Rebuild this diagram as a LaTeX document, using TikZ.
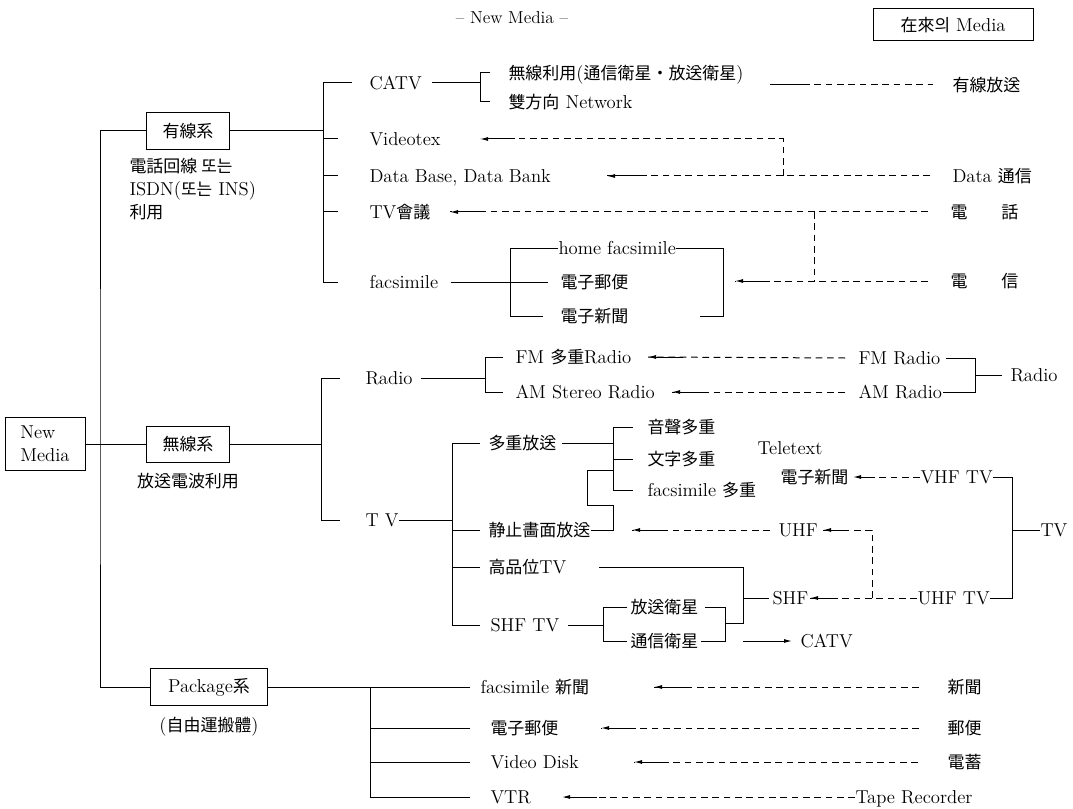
\documentclass[tikz,border=0pt]{standalone}
\usepackage{fontspec}
\newfontfamily\cjk{Noto Sans CJK KR}[Scale=0.91]
\usepackage{tikz}
\usetikzlibrary{arrows.meta,positioning,calc}
\newcommand{\hj}[1]{{\cjk #1}}
\newcommand{\Ar}[2][35]{\draw[<-] (#2) -- ++(#1,0);}

\begin{document}
\begin{tikzpicture}[x=0.75pt, y=-0.75pt, font=\fontsize{14}{17.25}\selectfont, >={Latex[length=6pt,width=3pt]},
  line width=0.75pt,
  every node/.style={inner sep=0pt},
  lbl/.style={anchor=west, text height=9.5pt, text depth=0pt},
  box/.style={draw, line width=0.75pt, minimum height=28pt, align=center},
  dsh/.style={dash pattern=on 5pt off 3.5pt}]
  \useasboundingbox (0,0) rectangle (1073,809);

  % Heads
  \node[font=\fontsize{13}{15}\selectfont] (head) at (512,18) {-- New Media --};
  \node[box, minimum width=120pt, minimum height=24pt] (old) at (953,25) {\hj{在來의} Media};

  % Root and groups
  \node[box, minimum width=60pt, minimum height=40pt, align=left] (nm) at (45,444) {New\\Media};
  \node[box, minimum width=62pt] (yus) at (188,131) {\hj{有線系}};
  \node[box, minimum width=62pt, minimum height=27pt] (mus) at (188,444) {\hj{無線系}};
  \node[box, minimum width=88pt] (pkg) at (209,687) {Package\hj{系}};
  \node[anchor=north west, align=left] (yussub) at (129,158) {\hj{電話回線 또는}\\ISDN(\hj{또는} INS)\\\hj{利用}};
  \node[below=8pt of mus] (mussub) {\hj{放送電波利用}};
  \node[below=8pt of pkg] (pkgsub) {(\hj{自由運搬體})};

  \coordinate (tk) at (100,444);
  \draw (nm.east) -- (mus.west);
  \draw (yus.west) -| (tk) |- (pkg.west);

  % Wired
  \node[lbl] (catv) at (369,83) {CATV};
  \node[lbl] (vtx) at (369,139) {Videotex};
  \node[lbl] (db) at (369,176) {Data Base, Data Bank};
  \node[lbl] (tvc) at (369,212) {TV\hj{會議}};
  \node[lbl] (fax) at (369,282) {facsimile};
  \node[lbl] (wl) at (508,73) {\hj{無線利用}(\hj{通信衛星・放送衛星})};
  \node[lbl] (net) at (508,102) {\hj{雙方向} Network};
  \node[lbl] (hf) at (558,248) {home facsimile};
  \node[lbl] (ep) at (560,282) {\hj{電子郵便}};
  \node[lbl] (en) at (560,316) {\hj{電子新聞}};
  \node[lbl] (cab) at (952,85) {\hj{有線放送}};
  \node[lbl] (dc) at (952,176) {Data \hj{通信}};
  \node[lbl] (tel) at (950,212) {\hj{電\qquad 話}};
  \node[lbl] (tg) at (950,281) {\hj{電\qquad 信}};

  \coordinate (wa) at (323,131);
  \draw (yus.east) -- (wa);
  \draw (wa |- catv) -- (wa |- fax);
  \draw (wa |- catv) -- ($(catv.west)+(-17,0)$);
  \draw (wa |- vtx) -- ($(vtx.west)+(-31,0)$);
  \draw (wa |- db) -- ($(db.west)+(-31,0)$);
  \draw (wa |- tvc) -- ($(tvc.west)+(-31,0)$);
  \draw (wa |- fax) -- ($(fax.west)+(-31,0)$);
  \coordinate (cb) at (480,83);
  \draw ($(catv.east)+(10,0)$) -- (cb);
  \draw ($(wl.west)+(-18,0)$) -| (cb |- net) -- ($(net.west)+(-18,0)$);
  \coordinate (ce) at (770,85);
  \draw (ce) -- ++(33,0);
  \draw[dsh] ($(ce)+(33,0)$) -- ($(cab.west)+(-19,0)$);

  \coordinate (t1) at (480,139);
  \coordinate (t2) at (607,176);
  \coordinate (t3) at (450,212);
  \coordinate (t4) at (735,281);
  \coordinate (jv) at (783,176);
  \coordinate (jt) at (814,212);
  \draw[dsh] ($(dc.west)+(-22,0)$) -- (t2);
  \draw[dsh] (jv) |- (t1);
  \draw[dsh] ($(tel.west)+(-22,0)$) -- (t3);
  \draw[dsh] (jt) -- (jt |- t4);
  \draw[dsh] ($(tg.west)+(-22,0)$) -- (t4);
  \Ar{t1} \Ar{t2} \Ar{t3} \Ar{t4}

  \coordinate (fb) at (510,282);
  \draw ($(fax.east)+(12,0)$) -- (fb);
  \draw (hf.west) -| (fb |- en) -- ($(en.west)+(-17,0)$);
  \draw (fb) -- ($(ep.west)+(-12,0)$);
  \coordinate (fr) at (723,281);
  \draw (hf.east) -| (fr |- en) -- ++(-23,0);

  % Wireless
  \node[lbl] (rad) at (365,378) {Radio};
  \node[lbl] (tv) at (365,520) {T V};
  \node[lbl] (fm) at (515,357) {FM \hj{多重}Radio};
  \node[lbl] (am) at (515,392) {AM Stereo Radio};
  \node[lbl] (fmr) at (858,358) {FM Radio};
  \node[lbl] (amr) at (858,392) {AM Radio};
  \node[lbl] (rad2) at (1010,375) {Radio};

  \coordinate (ma) at (321,444);
  \draw (mus.east) -- (ma);
  \draw (ma |- rad) -- (ma |- tv);
  \draw (ma |- rad) -- ($(rad.west)+(-25,0)$);
  \draw (ma |- tv) -- ($(tv.west)+(-25,0)$);
  \coordinate (rb) at (485,378);
  \draw ($(rad.east)+(8,0)$) -- (rb);
  \draw ($(fm.west)+(-12,0)$) -| (rb |- am) -- ($(am.west)+(-12,0)$);
  \coordinate (rr) at (975,375);
  \draw ($(fmr.east)+(5,0)$) -| (rr |- amr) -- (amr.east);
  \draw (rr) -- ($(rad2.west)+(-8,0)$);
  \coordinate (t5) at (648,357);
  \coordinate (t6) at (672,392);
  \draw[dsh] ($(fmr.west)+(-13,0)$) -- (t5);
  \draw[dsh] ($(amr.west)+(-13,0)$) -- (t6);
  \Ar{t5} \Ar{t6}

  \node[lbl] (mb) at (488,443) {\hj{多重放送}};
  \node[lbl] (st) at (488,530) {\hj{静止畵面放送}};
  \node[lbl] (hd) at (488,567) {\hj{高品位}TV};
  \node[lbl] (sh) at (490,625) {SHF TV};
  \node[lbl] (ss) at (647,427) {\hj{音聲多重}};
  \node[lbl] (mz) at (647,459) {\hj{文字多重}};
  \node[lbl] (fx) at (647,490) {facsimile \hj{多重}};
  \node[lbl] (bs) at (630,607) {\hj{放送衛星}};
  \node[lbl] (ts) at (630,641) {\hj{通信衛星}};
  \node[lbl] (ttx) at (757,448) {Teletext};
  \node[lbl] (en2) at (780,477) {\hj{電子新聞}};
  \node[lbl] (vhf) at (920,477) {VHF TV};
  \node[lbl] (uhf) at (778,530) {UHF};
  \node[lbl] (shf) at (772,598) {SHF};
  \node[lbl] (uhftv) at (917,598) {UHF TV};
  \node[lbl] (tv2) at (1040,530) {TV};
  \node[lbl] (catv2) at (800,641) {CATV};

  \coordinate (ta) at (452,520);
  \draw (tv.east) -- (ta);
  \draw (ta |- mb) -- (ta |- sh);
  \draw (ta |- mb) -- ($(mb.west)+(-8,0)$);
  \draw (ta |- st) -- ($(st.west)+(-8,0)$);
  \draw (ta |- hd) -- ($(hd.west)+(-8,0)$);
  \draw (ta |- sh) -- ($(sh.west)+(-10,0)$);
  \coordinate (mk) at (613,443);
  \draw ($(mb.east)+(5,0)$) -- (mk);
  \draw ($(ss.west)+(-14,0)$) -| (mk |- fx) -- ($(fx.west)+(-14,0)$);
  \draw (mk |- mz) -- ($(mz.west)+(-14,0)$);
  \coordinate (z1) at (613,505);
  \coordinate (z2) at (587,470);
  \draw (st.east) -| (z1) -| (z2) -- (mk |- z2);

  \coordinate (t7) at (632,530);
  \coordinate (t8) at (823,530);
  \coordinate (t9) at (810,598);
  \coordinate (t10) at (853,477);
  \coordinate (ju) at (872,598);
  \draw[dsh] ($(uhf.west)+(-8,0)$) -- (t7);
  \draw[dsh] (ju) |- (t8);
  \draw[dsh] (uhftv.west) -- (t9);
  \draw[dsh] (vhf.west) -- (t10);
  \Ar{t7} \Ar[20]{t8} \Ar[25]{t9} \Ar[22]{t10}
  \coordinate (tvk) at (1012,530);
  \draw (vhf.east) -| (tvk |- uhftv) -- (uhftv.east);
  \draw (tvk) -- (tv2.west);

  \coordinate (sj) at (743,598);
  \coordinate (sr) at (725,623);
  \coordinate (sb) at (603,625);
  \draw ($(hd.east)+(32,0)$) -| (sj |- sr) -- (sr);
  \draw (sj) -- ($(shf.west)+(-3,0)$);
  \draw ($(sh.east)+(8,0)$) -- (sb);
  \draw ($(bs.west)+(-3,0)$) -| (sb |- ts) -- ($(ts.west)+(-3,0)$);
  \draw ($(bs.east)+(6,0)$) -| (sr) |- ($(ts.east)+(2,0)$);
  \draw[->] ($(ts.east)+(44,0)$) -- ($(catv2.west)+(-8,0)$);

  % Package
  \node[lbl] (fn) at (480,687) {facsimile \hj{新聞}};
  \node[lbl] (ep2) at (490,728) {\hj{電子郵便}};
  \node[lbl] (vd) at (490,762) {Video Disk};
  \node[lbl] (vtr) at (490,797) {VTR};
  \node[lbl] (np) at (947,687) {\hj{新聞}};
  \node[lbl] (yp) at (947,728) {\hj{郵便}};
  \node[lbl] (dt) at (947,762) {\hj{電蓄}};
  \node[lbl] (tr) at (855,797) {Tape Recorder};

  \coordinate (pa) at (370,687);
  \coordinate (pe) at (470,687);
  \draw (pkg.east) -- (pe);
  \draw (pa) |- (pe |- vtr);
  \draw (pa |- ep2) -- (pe |- ep2);
  \draw (pa |- vd) -- (pe |- vd);
  \coordinate (t11) at (654,687);
  \coordinate (t12) at (601,728);
  \coordinate (t13) at (634,762);
  \coordinate (t14) at (562,797);
  \draw[dsh] ($(np.west)+(-28,0)$) -- (t11);
  \draw[dsh] ($(yp.west)+(-28,0)$) -- (t12);
  \draw[dsh] ($(dt.west)+(-29,0)$) -- (t13);
  \draw[dsh] (tr.west) -- (t14);
  \Ar{t11} \Ar{t12} \Ar{t13} \Ar{t14}
\end{tikzpicture}
\end{document}
